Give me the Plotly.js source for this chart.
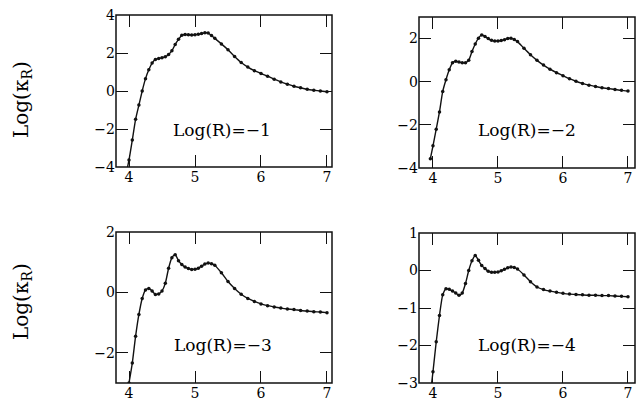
<!DOCTYPE html>
<html>
<head>
<meta charset="utf-8">
<script src="https://cdn.plot.ly/plotly-3.0.1.min.js"></script>
<style>html,body{margin:0;padding:0;background:#fff;}#chart{width:636px;height:407px;}</style>
</head>
<body>
<div id="chart"></div>
<script>
// log T grid (shared by all four panels)
const logT = [3.96, 4.0, 4.05, 4.1, 4.15, 4.2, 4.25, 4.3, 4.35, 4.4, 4.45, 4.5, 4.55, 4.6, 4.65, 4.7, 4.75, 4.8, 4.85, 4.9, 4.95, 5.0, 5.05, 5.1, 5.15, 5.2, 5.25, 5.3, 5.4, 5.5, 5.6, 5.7, 5.8, 5.9, 6.0, 6.1, 6.2, 6.3, 6.4, 6.5, 6.6, 6.7, 6.8, 6.9, 7.0];
const kappaR1 = [-4.3, -3.63, -2.58, -1.49, -0.74, 0.0, 0.65, 1.12, 1.47, 1.66, 1.71, 1.75, 1.80, 1.92, 2.12, 2.45, 2.72, 2.93, 2.97, 2.96, 2.95, 2.96, 2.99, 3.02, 3.06, 3.05, 2.92, 2.77, 2.48, 2.17, 1.82, 1.50, 1.26, 1.07, 0.92, 0.78, 0.62, 0.48, 0.36, 0.25, 0.17, 0.09, 0.04, 0.0, -0.04];
const kappaR2 = [-3.57, -2.97, -2.2, -1.4, -0.45, 0.09, 0.55, 0.88, 0.95, 0.91, 0.88, 0.88, 1.0, 1.4, 1.75, 2.02, 2.17, 2.1, 2.0, 1.92, 1.89, 1.89, 1.91, 1.95, 2.0, 2.01, 1.96, 1.86, 1.55, 1.25, 0.99, 0.77, 0.58, 0.42, 0.28, 0.14, 0.02, -0.08, -0.16, -0.22, -0.28, -0.32, -0.36, -0.40, -0.43];
const kappaR3 = [-3.5, -3.0, -2.34, -1.45, -0.73, -0.2, 0.08, 0.13, 0.05, -0.07, -0.05, 0.05, 0.3, 0.8, 1.15, 1.25, 1.05, 0.92, 0.84, 0.79, 0.76, 0.77, 0.80, 0.87, 0.94, 0.97, 0.95, 0.9, 0.65, 0.36, 0.13, -0.06, -0.2, -0.3, -0.38, -0.44, -0.48, -0.52, -0.55, -0.57, -0.6, -0.62, -0.64, -0.65, -0.67];
const kappaR4 = [-3.3, -2.7, -1.9, -1.2, -0.65, -0.49, -0.5, -0.55, -0.6, -0.66, -0.6, -0.35, 0.0, 0.26, 0.4, 0.27, 0.13, 0.05, -0.02, -0.05, -0.05, -0.04, -0.01, 0.03, 0.07, 0.09, 0.08, 0.04, -0.12, -0.3, -0.44, -0.51, -0.55, -0.58, -0.61, -0.63, -0.64, -0.65, -0.66, -0.66, -0.67, -0.67, -0.68, -0.69, -0.70];
const panelLabels = ["Log(R)=−1", "Log(R)=−2", "Log(R)=−3", "Log(R)=−4"];
const yTitle = "Log(κ<sub>R</sub>)";
const series = [kappaR1, kappaR2, kappaR3, kappaR4];
const FONT = "DejaVu Serif, serif";
const W = 636, H = 407;
const boxes = [
  {x0:116, x1:332, y0:15, y1:167, xr:[3.803, 7.076], yr:[-4, 4], dy:2},
  {x0:419, x1:635, y0:17, y1:168, xr:[3.785, 7.108], yr:[-4, 3], dy:2},
  {x0:116, x1:332, y0:232, y1:383, xr:[3.803, 7.076], yr:[-3, 2], dy:2},
  {x0:419, x1:635, y0:233, y1:383, xr:[3.785, 7.108], yr:[-3, 1], dy:1}
];
const labelPos = [[5.41, -2.05], [5.45, -2.25], [5.42, -1.75], [5.45, -1.99]];
const traces = [];
const layout = {
  width: W, height: H, margin: {l:0, r:0, t:0, b:0}, showlegend: false,
  font: {family: FONT, color: "#000", size: 14}, annotations: [], shapes: []
};
boxes.forEach((b, i) => {
  const n = i + 1;
  const xa = n === 1 ? "xaxis" : "xaxis" + n;
  const ya = n === 1 ? "yaxis" : "yaxis" + n;
  const xref = n === 1 ? "x" : "x" + n;
  const yref = n === 1 ? "y" : "y" + n;
  traces.push({
    x: logT, y: series[i], xaxis: xref, yaxis: yref,
    type: "scatter", mode: "lines+markers",
    line: {color: "#111", width: 1.4, shape: "spline", smoothing: 0.6},
    marker: {color: "#111", size: 3.5}
  });
  const common = {
    mirror: "allticks", ticks: "inside", tickcolor: "#111", tickwidth: 1.2, ticklen: 12,
    showgrid: false, zeroline: false,
    tickfont: {family: FONT, size: 14, color: "#000"}
  };
  layout[xa] = Object.assign({}, common, {domain: [b.x0 / W, b.x1 / W], range: b.xr, anchor: yref, dtick: 1});
  layout[ya] = Object.assign({}, common, {domain: [1 - b.y1 / H, 1 - b.y0 / H], range: b.yr, anchor: xref, dtick: b.dy});
  layout.shapes.push({
    type: "rect", xref: xref + " domain", yref: yref + " domain",
    x0: 0, x1: 1, y0: 0, y1: 1, line: {color: "#111", width: 1.5}
  });
  layout.annotations.push({
    x: labelPos[i][0], y: labelPos[i][1], xref: xref, yref: yref,
    text: panelLabels[i], showarrow: false, xanchor: "center", yanchor: "middle",
    font: {family: FONT, size: 17, color: "#000"}
  });
});
[100, 302].forEach(py => {
  layout.annotations.push({
    x: 22 / W, y: 1 - py / H, xref: "paper", yref: "paper",
    text: yTitle, textangle: -90, showarrow: false, xanchor: "center", yanchor: "middle",
    font: {family: FONT, size: 20, color: "#000"}
  });
});
Plotly.newPlot("chart", traces, layout, {displayModeBar: false});
</script>
</body>
</html>
